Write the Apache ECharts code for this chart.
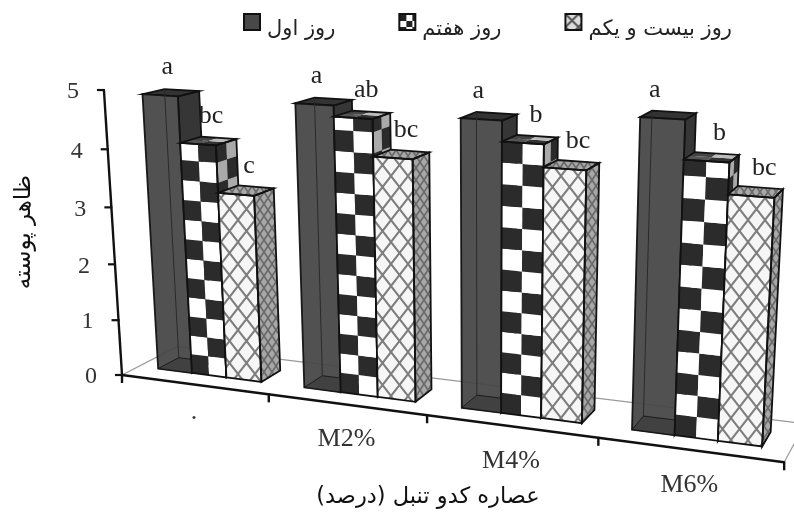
<!DOCTYPE html>
<html>
<head>
<meta charset="utf-8">
<title>chart</title>
<style>
html, body { margin: 0; padding: 0; background: #fff; }
#main { width: 794px; height: 513px; }
</style>
<script src="https://cdn.jsdelivr.net/npm/echarts@6/dist/echarts.min.js"></script>
</head>
<body>
<div id="main"></div>
<script>
var categories = ['.', 'M2%', 'M4%', 'M6%'];
var seriesNames = ['روز اول', 'روز هفتم', 'روز بیست و یکم'];
var yTicks = [0, 1, 2, 3, 4, 5];
var day1 = [4.88, 4.88, 4.80, 4.98];
var day7 = [4.09, 4.70, 4.47, 4.38];
var day21 = [3.28, 4.09, 4.11, 3.90];
var letters1 = ['a', 'a', 'a', 'a'];
var letters7 = ['bc', 'ab', 'b', 'b'];
var letters21 = ['c', 'bc', 'bc', 'bc'];
var xTitle = 'عصاره کدو تنبل (درصد)';
var yTitle = 'ظاهر پوسته';

var serifFont = '"Liberation Serif", serif';
var persianFont = '"DejaVu Sans", sans-serif';

// the picture is a tilted 3D plot, so everything goes through one camera matrix
function project(x, y, z) {
    var w = 1 - 0.0364 * x - 0.0095 * y + 0.0596 * z;
    return [
        (122 + 137 * x - 4.6 * y + 65.6 * z) / w,
        (375 + 5 * x - 57.85 * y - 7.75 * z) / w
    ];
}

// grid pixel from api.coord -> position in the 3D plot
function toPlot(point, rect) {
    return {
        x: (point[0] - rect.x) / rect.width * categories.length,
        y: (rect.y + rect.height - point[1]) / rect.height * 5
    };
}

function makeTile(w, h, draw) {
    var c = document.createElement('canvas');
    c.width = w;
    c.height = h;
    draw(c.getContext('2d'), w, h);
    return c;
}

function hatchTile(back, line, w, h, lw) {
    return makeTile(w, h, function (ctx) {
        ctx.fillStyle = back;
        ctx.fillRect(0, 0, w, h);
        ctx.strokeStyle = line;
        ctx.lineWidth = lw;
        ctx.beginPath();
        ctx.moveTo(0, 0); ctx.lineTo(w, h);
        ctx.moveTo(w, 0); ctx.lineTo(0, h);
        ctx.stroke();
    });
}

var hatchFront = { image: hatchTile('#f6f6f6', '#7d7d7d', 17, 22, 2), repeat: 'repeat' };
var hatchSide = { image: hatchTile('#a8a8a8', '#6a6a6a', 8, 12, 1.7), repeat: 'repeat' };
var hatchLegend = { image: hatchTile('#ddd', '#555', 13, 13, 2), repeat: 'repeat' };
var checkLegend = {
    image: makeTile(13, 13, function (ctx) {
        ctx.fillStyle = '#fff'; ctx.fillRect(0, 0, 13, 13);
        ctx.fillStyle = '#222'; ctx.fillRect(0, 0, 7, 7); ctx.fillRect(7, 7, 6, 6);
    }),
    repeat: 'repeat'
};

var EDGE = '#111';
var Z0 = 0.3, Z1 = 0.68;
var CLUSTER_START = 0.135, BAR_W = 0.238;
var ROW_H = 0.345;

function quad(a, b, c, d, fill, lineW, opacity) {
    return {
        type: 'polygon',
        shape: { points: [a, b, c, d] },
        style: { fill: fill, stroke: lineW ? EDGE : null, lineWidth: lineW || 0, opacity: opacity == null ? 1 : opacity }
    };
}

function edge(a, b, color, w) {
    return {
        type: 'line',
        shape: { x1: a[0], y1: a[1], x2: b[0], y2: b[1] },
        style: { stroke: color, lineWidth: w }
    };
}

function barFaces(x0, x1, v) {
    return {
        fb0: project(x0, 0, Z0), fb1: project(x1, 0, Z0),
        ft0: project(x0, v, Z0), ft1: project(x1, v, Z0),
        bb0: project(x0, 0, Z1), bb1: project(x1, 0, Z1),
        bt0: project(x0, v, Z1), bt1: project(x1, v, Z1)
    };
}

function drawDark(f, children) {
    children.push(quad(f.fb1, f.bb1, f.bt1, f.ft1, '#363636', 1.8));
    children.push(quad(f.ft0, f.ft1, f.bt1, f.bt0, '#333', 1.8));
    children.push(quad(f.fb0, f.fb1, f.ft1, f.ft0, '#464646', 1.8, 0.94));
    // back edges show through the front
    children.push(quad(f.fb0, f.bb0, f.bb1, f.fb1, '#3d3d3d', 1, 0.8));
    children.push(edge(f.bb0, f.bt0, '#2a2a2a', 1));
}

function drawCheck(f, x0, x1, v, children) {
    var rows = Math.ceil(v / ROW_H);
    var xm = (x0 + x1) / 2, zm = (Z0 + Z1) / 2;
    children.push(quad(f.fb1, f.bb1, f.bt1, f.ft1, '#777', 0));
    for (var r = 0; r < rows; r++) {
        var a = r * ROW_H, b = Math.min(v, (r + 1) * ROW_H);
        var dark = r % 2 === 0;
        children.push(quad(project(x0, a, Z0), project(xm, a, Z0), project(xm, b, Z0), project(x0, b, Z0), dark ? '#2b2b2b' : '#fff', 0));
        children.push(quad(project(xm, a, Z0), project(x1, a, Z0), project(x1, b, Z0), project(xm, b, Z0), dark ? '#fff' : '#2b2b2b', 0));
        children.push(quad(project(x1, a, Z0), project(x1, a, zm), project(x1, b, zm), project(x1, b, Z0), dark ? '#aaa' : '#2b2b2b', 0));
        children.push(quad(project(x1, a, zm), project(x1, a, Z1), project(x1, b, Z1), project(x1, b, zm), dark ? '#2b2b2b' : '#aaa', 0));
    }
    children.push(quad(f.ft0, project(xm, v, Z0), project(xm, v, zm), project(x0, v, zm), '#555', 0));
    children.push(quad(project(xm, v, Z0), f.ft1, project(x1, v, zm), project(xm, v, zm), '#333', 0));
    children.push(quad(project(x0, v, zm), project(xm, v, zm), project(xm, v, Z1), f.bt0, '#444', 0));
    children.push(quad(project(xm, v, zm), project(x1, v, zm), f.bt1, project(xm, v, Z1), '#bbb', 0));
    outline(f, children);
}

function drawHatch(f, children) {
    children.push(quad(f.fb1, f.bb1, f.bt1, f.ft1, hatchSide, 0));
    children.push(quad(f.ft0, f.ft1, f.bt1, f.bt0, hatchSide, 0));
    children.push(quad(f.fb0, f.fb1, f.ft1, f.ft0, hatchFront, 0));
    outline(f, children);
}

function outline(f, children) {
    var none = 'transparent';
    children.push(quad(f.fb0, f.fb1, f.ft1, f.ft0, none, 1.8));
    children.push(quad(f.fb1, f.bb1, f.bt1, f.ft1, none, 1.8));
    children.push(quad(f.ft0, f.ft1, f.bt1, f.bt0, none, 1.8));
}

function barRenderer(seriesIndex, letters) {
    return function (params, api) {
        var i = api.value(0);
        var p = toPlot(api.coord([i, api.value(1)]), params.coordSys);
        var x0 = p.x - 0.5 + CLUSTER_START + seriesIndex * BAR_W;
        var x1 = x0 + BAR_W;
        var f = barFaces(x0, x1, p.y);
        var children = [];
        if (seriesIndex === 0) drawDark(f, children);
        if (seriesIndex === 1) drawCheck(f, x0, x1, p.y, children);
        if (seriesIndex === 2) drawHatch(f, children);
        // significance letter
        var shift = seriesIndex === 0 ? 7 - 5 * i : 13;
        children.push({
            type: 'text',
            style: {
                text: letters[i],
                x: (f.ft0[0] + f.ft1[0]) / 2 + shift,
                y: (f.ft0[1] + f.ft1[1]) / 2 - 28,
                font: '26px ' + serifFont,
                fill: '#222',
                align: 'center',
                verticalAlign: 'middle'
            }
        });
        return { type: 'group', children: children };
    };
}

function axesRenderer(params) {
    var children = [];
    var origin = project(0, 0, 0);
    var n = categories.length;
    // floor
    children.push(edge(origin, project(0, 0, 1), '#999', 1.2));
    children.push(edge(project(0, 0, 1), project(n, 0, 1), '#999', 1.2));
    children.push(edge(project(n, 0, 0), project(n, 0, 1), '#999', 1.2));
    // value axis
    children.push(edge(origin, project(0, 5, 0), '#111', 2.4));
    yTicks.forEach(function (t) {
        var p = project(0, t, 0);
        children.push(edge([p[0] - 7, p[1]], [p[0] + 1, p[1]], '#111', 2.2));
        children.push({
            type: 'text',
            style: { text: String(t), x: p[0] - 31, y: p[1] + 2, font: '24px ' + serifFont, fill: '#333', align: 'center', verticalAlign: 'middle' }
        });
    });
    // category axis
    children.push(edge(origin, project(n, 0, 0), '#111', 2.6));
    for (var i = 0; i <= n; i++) {
        var q = project(i, 0, 0);
        children.push(edge([q[0], q[1] - 1], [q[0], q[1] + 8], '#111', 2.4));
    }
    categories.forEach(function (name, k) {
        var c = project(k + 0.5, 0, 0);
        children.push({
            type: 'text',
            style: { text: name, x: c[0], y: c[1] + (name === '.' ? 28 : 35), font: '26px ' + serifFont, fill: '#333', align: 'center', verticalAlign: 'middle' }
        });
    });
    children.push({
        type: 'text',
        style: { text: xTitle, x: 428, y: 497, font: '22.5px ' + persianFont, fill: '#111', align: 'center', verticalAlign: 'middle' }
    });
    children.push({
        type: 'text',
        x: 24, y: 232, rotation: Math.PI / 2,
        style: { text: yTitle, x: 0, y: 0, font: '23px ' + persianFont, fill: '#111', align: 'center', verticalAlign: 'middle' }
    });
    return { type: 'group', children: children };
}

function barData(values) {
    return values.map(function (v, i) { return [i, v]; });
}

function barSeries(name, k, values, letters) {
    return {
        type: 'custom',
        name: name,
        data: barData(values),
        encode: { x: 0, y: 1 },
        clip: false,
        silent: true,
        renderItem: barRenderer(k, letters),
        z: 3 + k
    };
}

var chart = echarts.init(document.getElementById('main'), null, { renderer: 'canvas' });

chart.setOption({
    backgroundColor: '#fff',
    animation: false,
    legend: {
        left: 243,
        top: 13,
        padding: 0,
        itemWidth: 16,
        itemHeight: 16,
        itemGap: 63,
        formatter: function (name) { return '{t|' + name + '}'; },
        textStyle: {
            rich: {
                t: { fontFamily: persianFont, fontSize: 21, color: '#222', padding: [16, 0, 0, 2] }
            }
        },
        data: [
            { name: seriesNames[0], icon: 'rect', itemStyle: { color: '#484848', borderColor: '#111', borderWidth: 2 } },
            { name: seriesNames[1], icon: 'rect', itemStyle: { color: checkLegend, borderColor: '#111', borderWidth: 2 } },
            { name: seriesNames[2], icon: 'rect', itemStyle: { color: hatchLegend, borderColor: '#111', borderWidth: 2 } }
        ],
        selectedMode: false
    },
    grid: { left: 122, right: 10, top: 90, bottom: 139 },
    xAxis: { type: 'category', data: categories, show: false },
    yAxis: { type: 'value', min: 0, max: 5, interval: 1, show: false },
    series: [
        {
            type: 'custom',
            name: 'axes',
            data: [[0, 0]],
            encode: { x: 0, y: 1 },
            clip: false,
            silent: true,
            renderItem: axesRenderer,
            z: 1
        },
        barSeries(seriesNames[0], 0, day1, letters1),
        barSeries(seriesNames[1], 1, day7, letters7),
        barSeries(seriesNames[2], 2, day21, letters21)
    ]
});
</script>
</body>
</html>
